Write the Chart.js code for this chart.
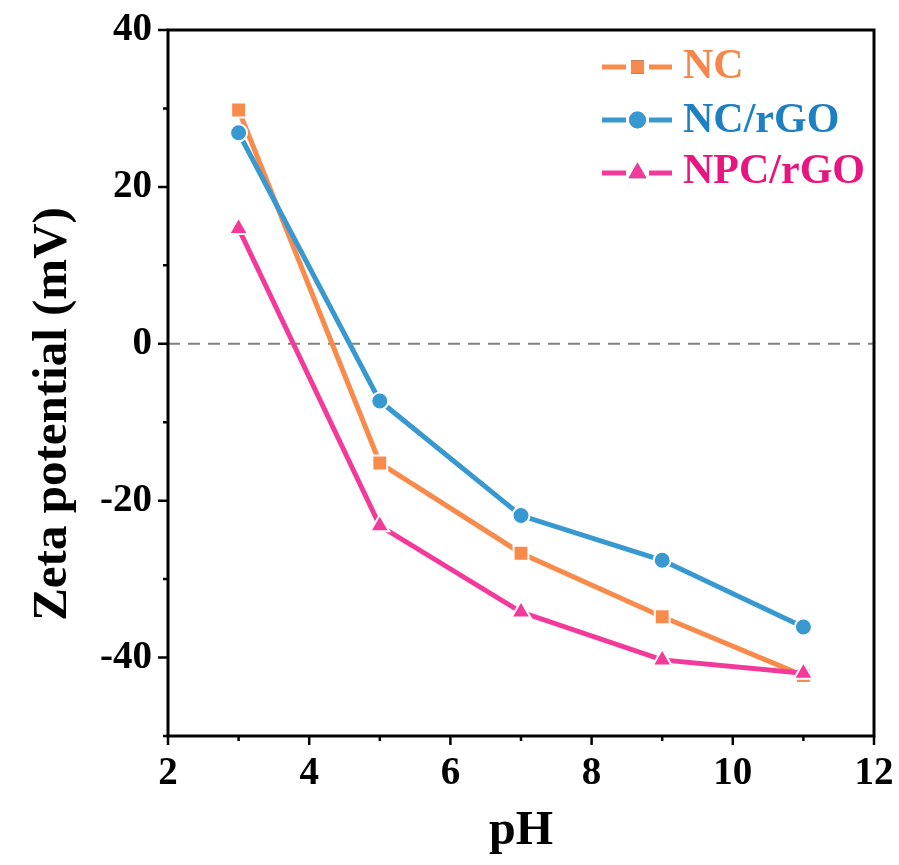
<!DOCTYPE html>
<html>
<head>
<meta charset="utf-8">
<script src="https://cdn.jsdelivr.net/npm/chart.js@4.4.1/dist/chart.umd.min.js"></script>
<style>
  html, body { margin: 0; padding: 0; background: #fff; }
  #wrap { width: 899px; height: 865px; }
</style>
</head>
<body>
<div id="wrap"><canvas id="zetaChart" width="899" height="865"></canvas></div>
<script>
// values
const phValues = [3, 5, 7, 9, 11];
const ncValues = [29.8, -15.2, -26.7, -34.8, -42.3];
const ncRgoValues = [26.9, -7.3, -21.9, -27.6, -36.1];
const npcRgoValues = [14.7, -23.2, -34.2, -40.3, -42.0];
const seriesNames = ['NC', 'NC/rGO', 'NPC/rGO'];
const xTicks = [2, 4, 6, 8, 10, 12];
const yTicks = [-40, -20, 0, 20, 40];

const serif = '"Liberation Serif", "Times New Roman", serif';
const lineColors = ['#f88b4c', '#3898d0', '#f33a9b'];
const textColors = ['#f7864a', '#1c80c2', '#e8147f'];
const shapes = ['rect', 'circle', 'triangle'];
const sizes = [10.5, 8.5, 11];
const legendSizes = [9.2, 8.5, 10.4];

function pts(ys) {
  return phValues.map((x, i) => ({ x: x, y: ys[i] }));
}

const allSeries = [ncValues, ncRgoValues, npcRgoValues];
const datasets = allSeries.map((ys, i) => ({
  label: seriesNames[i],
  data: pts(ys),
  borderColor: lineColors[i],
  backgroundColor: lineColors[i],
  borderWidth: 5,
  pointStyle: shapes[i],
  pointRadius: sizes[i],
  pointBorderColor: '#fff',
  pointBorderWidth: 2,
  pointBackgroundColor: lineColors[i],
  order: 2 - i,
  tension: 0
}));

// frame, tick marks, zero line, y title and the Origin-style legend
const decor = {
  id: 'decor',
  beforeDatasetsDraw(chart) {
    const { ctx, chartArea: a, scales } = chart;
    const y0 = scales.y.getPixelForValue(0);
    ctx.save();
    ctx.strokeStyle = '#808080';
    ctx.lineWidth = 2;
    ctx.setLineDash([12, 8]);
    ctx.beginPath();
    ctx.moveTo(a.left, y0);
    ctx.lineTo(a.right, y0);
    ctx.stroke();
    ctx.restore();
  },
  afterDraw(chart) {
    const { ctx, chartArea: a, scales } = chart;
    ctx.save();
    ctx.strokeStyle = '#000';
    ctx.lineWidth = 3;
    ctx.strokeRect(a.left, a.top, a.right - a.left, a.bottom - a.top);
    ctx.lineWidth = 2.5;
    ctx.beginPath();
    for (let v = 2; v <= 12; v += 1) {
      const px = scales.x.getPixelForValue(v);
      const len = v % 2 === 0 ? 9 : 5;
      ctx.moveTo(px, a.bottom);
      ctx.lineTo(px, a.bottom + len);
    }
    for (let v = -50; v <= 40; v += 10) {
      const py = scales.y.getPixelForValue(v);
      const len = v % 20 === 0 ? 10 : 5;
      ctx.moveTo(a.left, py);
      ctx.lineTo(a.left - len, py);
    }
    ctx.stroke();

    // y title
    ctx.save();
    ctx.translate(66, 414);
    ctx.rotate(-Math.PI / 2);
    ctx.fillStyle = '#000';
    ctx.font = 'bold 49px ' + serif;
    ctx.textAlign = 'center';
    ctx.textBaseline = 'alphabetic';
    ctx.fillText('Zeta potential (mV)', 0, 0);
    ctx.restore();

    // legend
    const lx = 602, rowY = [67, 120, 173], baseY = [78, 132, 183];
    chart.data.datasets.forEach((ds, i) => {
      const y = rowY[i];
      ctx.strokeStyle = ds.borderColor;
      ctx.lineWidth = 5;
      ctx.beginPath();
      ctx.moveTo(lx, y);
      ctx.lineTo(lx + 24, y);
      ctx.moveTo(lx + 47, y);
      ctx.lineTo(lx + 70, y);
      ctx.stroke();
      Chart.helpers.drawPoint(ctx, {
        pointStyle: ds.pointStyle, radius: legendSizes[i], rotation: 0, borderWidth: 0
      }, lx + 35.5, y);
      ctx.fillStyle = ds.backgroundColor;
      ctx.fill();
      ctx.fillStyle = textColors[i];
      ctx.font = 'bold 42px ' + serif;
      ctx.textBaseline = 'alphabetic';
      ctx.textAlign = 'left';
      ctx.fillText(ds.label, lx + 81, baseY[i]);
    });
    ctx.restore();
  }
};

new Chart(document.getElementById('zetaChart'), {
  type: 'line',
  data: { datasets: datasets },
  options: {
    responsive: false,
    animation: false,
    layout: { padding: { left: 0, right: 25, top: 30, bottom: 0 } },
    plugins: { legend: { display: false }, tooltip: { enabled: false } },
    scales: {
      x: {
        type: 'linear',
        min: 2, max: 12,
        afterBuildTicks(scale) { scale.ticks = xTicks.map(v => ({ value: v })); },
        afterFit(scale) { scale.height = 129; scale.paddingLeft = 0; scale.paddingRight = 0; },
        grid: { display: false, drawTicks: false },
        border: { display: false },
        ticks: { color: '#000', padding: 15, font: { family: serif, size: 39, weight: 'bold' } },
        title: {
          display: true, text: 'pH', color: '#000',
          font: { family: serif, size: 48, weight: 'bold' },
          padding: { top: 0, bottom: 5 }
        }
      },
      y: {
        min: -50, max: 40,
        afterBuildTicks(scale) { scale.ticks = yTicks.map(v => ({ value: v })); },
        afterFit(scale) { scale.width = 168; scale.paddingTop = 0; scale.paddingBottom = 0; },
        grid: { display: false, drawTicks: false },
        border: { display: false },
        ticks: { color: '#000', padding: 16, font: { family: serif, size: 39, weight: 'bold' } }
      }
    }
  },
  plugins: [decor]
});
</script>
</body>
</html>
